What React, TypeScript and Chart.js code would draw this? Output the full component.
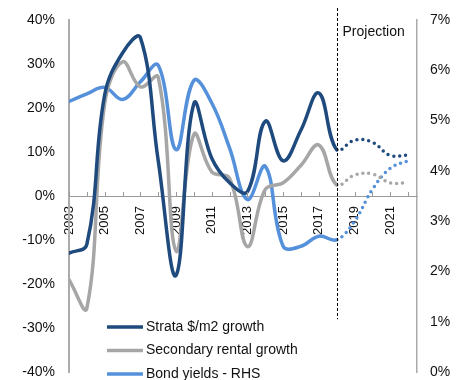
import React, { useEffect, useRef } from 'react';
import { Chart, registerables } from 'chart.js';

Chart.register(...registerables);

const YEARS = [2003, 2004, 2005, 2006, 2007, 2008, 2009, 2010, 2011, 2012, 2013, 2014, 2015, 2016, 2017, 2018, 2019, 2020, 2021, 2022];
const STRATA = [-13, -11, 23, 32.5, 36, 8, -18, 21, 8.6, 3, 1, 17, 8, 15, 23.4, 10.5, 12.7, 12.2, 9.2, 9.3];
const RENTAL = [-19, -25.5, 21, 30.5, 24.8, 27, -12.5, 14, 5.5, 4, -11.5, 1.5, 3, 7, 11.6, 2.5, 4.8, 5, 3, 3];
const BOND = [5.38, 5.53, 5.66, 5.42, 5.77, 6.1, 4.42, 5.8, 5.35, 4.45, 3.43, 4.09, 2.5, 2.5, 2.7, 2.63, 3.0, 3.63, 4.05, 4.2];

const SERIES_LABELS = ['Strata $/m2 growth', 'Secondary rental growth', 'Bond yields - RHS'];
const PROJECTION_START = 2018;
const PROJECTION_LABEL = 'Projection';
const X_MIN = 2003;
const X_MAX = 2022.5;
const LEFT_MIN = -40;
const LEFT_MAX = 40;
const LEFT_STEP = 10;
const RIGHT_MIN = 0;
const RIGHT_MAX = 7;
const RIGHT_STEP = 1;

const FONT = '"Liberation Sans", Arial, Helvetica, sans-serif';
const C_STRATA = '#1F4A7E';
const C_RENTAL = '#A6A6A6';
const C_BOND = '#5590DA';
const C_AXIS = '#9a9a9a';
const C_TEXT = '#111111';

export default function App() {
  const ref = useRef<HTMLCanvasElement>(null);

  useEffect(() => {
    document.body.style.margin = '0';
    const canvas = ref.current;
    if (!canvas) return;

    const dotted = (ctx: any) => (ctx.p0.parsed.x >= PROJECTION_START ? [0, 6] : undefined);
    const mk = (label: string, values: number[], color: string, axis: string) => ({
      label,
      data: YEARS.map((x, i) => ({ x, y: values[i] })),
      borderColor: color,
      backgroundColor: color,
      borderWidth: 3.5,
      pointRadius: 0,
      pointHoverRadius: 0,
      tension: 0.4,
      fill: false,
      yAxisID: axis,
      borderCapStyle: 'round' as const,
      borderJoinStyle: 'round' as const,
      segment: { borderDash: dotted },
    });

    const overlay = {
      id: 'overlay',
      afterDatasetsDraw(chart: any) {
        const { ctx, chartArea, scales } = chart;
        const xs = scales.x;
        const ys = scales.y;
        const y0 = ys.getPixelForValue(0);
        ctx.save();
        // inward tick marks on the category axis
        ctx.strokeStyle = C_AXIS;
        ctx.lineWidth = 1;
        for (let yr = Math.ceil(xs.min); yr <= xs.max; yr++) {
          const px = Math.round(xs.getPixelForValue(yr)) + 0.5;
          ctx.beginPath();
          ctx.moveTo(px, y0);
          ctx.lineTo(px, y0 - 4);
          ctx.stroke();
        }
        // projection divider
        const pxp = Math.round(xs.getPixelForValue(PROJECTION_START)) + 0.5;
        ctx.strokeStyle = '#000';
        ctx.setLineDash([3, 2]);
        ctx.beginPath();
        ctx.moveTo(pxp, chartArea.top - 12);
        ctx.lineTo(pxp, ys.getPixelForValue(-28));
        ctx.stroke();
        ctx.setLineDash([]);
        ctx.fillStyle = C_TEXT;
        ctx.font = `14px ${FONT}`;
        ctx.textBaseline = 'middle';
        ctx.textAlign = 'left';
        ctx.fillText(PROJECTION_LABEL, pxp + 5, chartArea.top + 12);
        // legend
        chart.data.datasets.forEach((ds: any, i: number) => {
          const ly = chartArea.bottom - 45 + i * 23.5;
          const lx = chartArea.left + 38;
          ctx.strokeStyle = ds.borderColor;
          ctx.lineWidth = 3.5;
          ctx.lineCap = 'butt';
          ctx.beginPath();
          ctx.moveTo(lx, ly);
          ctx.lineTo(lx + 36, ly);
          ctx.stroke();
          ctx.fillText(ds.label, lx + 39, ly);
        });
        ctx.restore();
      },
    };

    const chart = new Chart(canvas, {
      type: 'line',
      data: {
        datasets: [
          mk(SERIES_LABELS[0], STRATA, C_STRATA, 'y'),
          mk(SERIES_LABELS[1], RENTAL, C_RENTAL, 'y'),
          mk(SERIES_LABELS[2], BOND, C_BOND, 'y2'),
        ],
      },
      options: {
        animation: false,
        responsive: true,
        maintainAspectRatio: false,
        layout: { padding: { top: 20, bottom: 8, left: 0, right: 0 } },
        plugins: { legend: { display: false }, tooltip: { enabled: false } },
        scales: {
          x: {
            type: 'linear',
            min: X_MIN,
            max: X_MAX,
            position: { y: 0 } as any,
            grid: { display: true, drawOnChartArea: false, drawTicks: false },
            border: { display: true, color: C_AXIS, width: 1 },
            ticks: {
              stepSize: 1,
              autoSkip: false,
              minRotation: 90,
              maxRotation: 90,
              padding: 10,
              color: C_TEXT,
              font: { family: FONT, size: 13 },
              callback: (v: any) => (Number.isInteger(v) && v % 2 === 1 ? String(v) : ''),
            },
            afterFit: (s: any) => {
              s.height = 0;
              s.paddingTop = 0;
              s.paddingBottom = 0;
            },
          },
          y: {
            position: 'left',
            min: LEFT_MIN,
            max: LEFT_MAX,
            grid: { display: true, drawOnChartArea: false, drawTicks: false },
            border: { display: true, color: '#ababab', width: 2 },
            ticks: {
              stepSize: LEFT_STEP,
              padding: 14,
              color: C_TEXT,
              font: { family: FONT, size: 14 },
              callback: (v: any) => `${v}%`,
            },
            afterFit: (s: any) => {
              s.width = 69;
              s.paddingTop = 0;
              s.paddingBottom = 0;
            },
          },
          y2: {
            position: 'right',
            min: RIGHT_MIN,
            max: RIGHT_MAX,
            grid: { display: true, drawOnChartArea: false, drawTicks: false },
            border: { display: true, color: '#ababab', width: 1.5 },
            ticks: {
              stepSize: RIGHT_STEP,
              padding: 13,
              color: C_TEXT,
              font: { family: FONT, size: 14 },
              callback: (v: any) => `${v}%`,
            },
            afterFit: (s: any) => {
              s.width = 50;
              s.paddingTop = 0;
              s.paddingBottom = 0;
            },
          },
        },
      },
      plugins: [overlay],
    });

    return () => chart.destroy();
  }, []);

  return (
    <div style={{ width: 467, height: 380, position: 'relative' }}>
      <canvas ref={ref} />
    </div>
  );
}
